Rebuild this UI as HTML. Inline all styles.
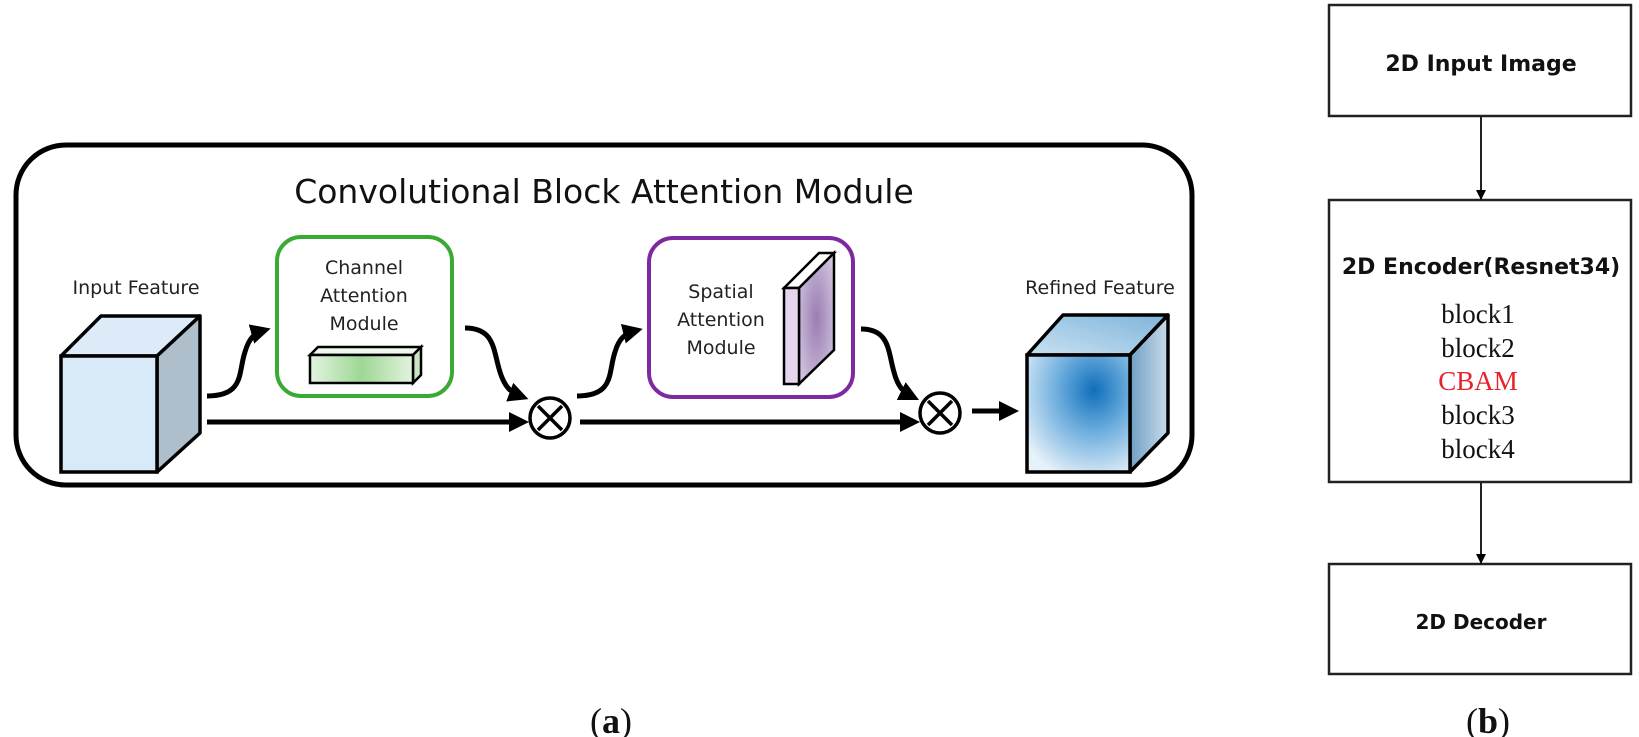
<!DOCTYPE html>
<html><head><meta charset="utf-8"><style>
html,body{margin:0;padding:0;background:#fff}
svg{display:block}
</style></head><body>
<svg width="1639" height="737" viewBox="0 0 1639 737" xmlns="http://www.w3.org/2000/svg">
<defs>
<marker id="ah" markerWidth="4" markerHeight="4" refX="2.2" refY="2" orient="auto" markerUnits="strokeWidth">
<path d="M0,0 L4,2 L0,4 z" fill="#000"/></marker>
<marker id="as" markerWidth="10" markerHeight="10" refX="9" refY="5" orient="auto" markerUnits="userSpaceOnUse">
<path d="M0,0 L10,5 L0,10 z" fill="#000"/></marker>
<radialGradient id="rg" cx="0.65" cy="0.3" r="0.8">
<stop offset="0" stop-color="#0f6fbb"/><stop offset="0.45" stop-color="#6eaedd"/><stop offset="1" stop-color="#e6f1fa"/></radialGradient>
<linearGradient id="rt" x1="0" y1="1" x2="1" y2="0"><stop offset="0" stop-color="#c9e1f2"/><stop offset="1" stop-color="#7fb4da"/></linearGradient>
<linearGradient id="rs" x1="0" y1="0" x2="1" y2="0"><stop offset="0" stop-color="#6f9fc4"/><stop offset="1" stop-color="#c8dcea"/></linearGradient>
<linearGradient id="gb" x1="0" y1="0" x2="1" y2="0"><stop offset="0" stop-color="#e3f3e0"/><stop offset="0.5" stop-color="#9ed795"/><stop offset="1" stop-color="#e3f3e0"/></linearGradient>
<radialGradient id="pb" cx="0.5" cy="0.5" r="0.7"><stop offset="0" stop-color="#9a7db3"/><stop offset="1" stop-color="#d9cde4"/></radialGradient>
</defs>

<rect x="16" y="145" width="1176" height="340" rx="50" fill="none" stroke="#000" stroke-width="5"/>
<text x="604" y="203" font-family="DejaVu Sans, Liberation Sans, sans-serif" font-size="33" text-anchor="middle" fill="#111">Convolutional Block Attention Module</text>

<text x="136" y="294" font-family="DejaVu Sans, Liberation Sans, sans-serif" font-size="19" text-anchor="middle" fill="#222">Input Feature</text>
<polygon points="61,356 101,316 200,316 157,356" fill="#dcebf7" stroke="#000" stroke-width="3.5" stroke-linejoin="round"/>
<polygon points="157,356 200,316 200,433 157,472" fill="#aebecb" stroke="#000" stroke-width="3.5" stroke-linejoin="round"/>
<rect x="61" y="356" width="96" height="116" fill="#d8eaf8" stroke="#000" stroke-width="3.5"/>

<rect x="277" y="237" width="175" height="159" rx="24" fill="none" stroke="#3aaa35" stroke-width="4"/>
<g font-family="DejaVu Sans, Liberation Sans, sans-serif" font-size="19" text-anchor="middle" fill="#222">
<text x="364" y="274">Channel</text><text x="364" y="302">Attention</text><text x="364" y="330">Module</text></g>
<polygon points="310,355 318,347 421,347 413,355" fill="#eef8ec" stroke="#000" stroke-width="2.5"/>
<polygon points="413,355 421,347 421,375 413,383" fill="#c9e6c3" stroke="#000" stroke-width="2.5"/>
<rect x="310" y="355" width="103" height="28" fill="url(#gb)" stroke="#000" stroke-width="2.5"/>

<rect x="649" y="238" width="204" height="159" rx="24" fill="none" stroke="#7d2aa0" stroke-width="4"/>
<g font-family="DejaVu Sans, Liberation Sans, sans-serif" font-size="19" text-anchor="middle" fill="#222">
<text x="721" y="298">Spatial</text><text x="721" y="326">Attention</text><text x="721" y="354">Module</text></g>
<polygon points="784,288 819,253 834,253 799,288" fill="#fff" stroke="#000" stroke-width="2.5"/>
<polygon points="799,288 834,253 834,350 799,384" fill="url(#pb)" stroke="#000" stroke-width="2.5"/>
<rect x="784" y="288" width="15" height="96" fill="#e4d6ef" stroke="#000" stroke-width="2.5"/>

<g fill="none" stroke="#000" stroke-width="5">
<path d="M207,396 C245,396 238,372 245,352 C249,338 255,333 262,331" marker-end="url(#ah)"/>
<path d="M465,328 C495,328 493,350 500,372 C505,388 512,393 520,396" marker-end="url(#ah)"/>
<path d="M577,396 C615,396 608,372 615,352 C619,338 626,333 634,331" marker-end="url(#ah)"/>
<path d="M861,329 C890,329 888,352 894,372 C898,388 905,393 911,396" marker-end="url(#ah)"/>
<line x1="207" y1="422" x2="520" y2="422" marker-end="url(#ah)"/>
<line x1="580" y1="422" x2="911" y2="422" marker-end="url(#ah)"/>
<line x1="972" y1="411" x2="1010" y2="411" marker-end="url(#ah)"/>
</g>
<g stroke="#000" stroke-width="3.5" fill="#fff">
<circle cx="550" cy="418" r="20"/><line x1="538" y1="406" x2="562" y2="430"/><line x1="562" y1="406" x2="538" y2="430"/>
<circle cx="940" cy="413" r="20"/><line x1="928" y1="401" x2="952" y2="425"/><line x1="952" y1="401" x2="928" y2="425"/>
</g>

<text x="1100" y="294" font-family="DejaVu Sans, Liberation Sans, sans-serif" font-size="19" text-anchor="middle" fill="#222">Refined Feature</text>
<polygon points="1027,355 1063,315 1168,315 1130,355" fill="url(#rt)" stroke="#000" stroke-width="3.5" stroke-linejoin="round"/>
<polygon points="1130,355 1168,315 1168,433 1130,472" fill="url(#rs)" stroke="#000" stroke-width="3.5" stroke-linejoin="round"/>
<rect x="1027" y="355" width="103" height="117" fill="url(#rg)" stroke="#000" stroke-width="3.5"/>

<g fill="none" stroke="#222" stroke-width="2.5">
<rect x="1329" y="5" width="302" height="111"/>
<rect x="1329" y="200" width="302" height="282"/>
<rect x="1329" y="564" width="302" height="110"/>
<line x1="1481" y1="116" x2="1481" y2="199" stroke-width="2" marker-end="url(#as)"/>
<line x1="1481" y1="482" x2="1481" y2="563" stroke-width="2" marker-end="url(#as)"/>
</g>
<g font-family="DejaVu Sans, Liberation Sans, sans-serif" font-weight="bold" text-anchor="middle" fill="#111">
<text x="1481" y="71" font-size="22">2D Input Image</text>
<text x="1481" y="274" font-size="22">2D Encoder(Resnet34)</text>
<text x="1481" y="629" font-size="20">2D Decoder</text>
</g>
<g font-family="Liberation Serif, serif" font-size="27" text-anchor="middle" fill="#111">
<text x="1478" y="323">block1</text>
<text x="1478" y="357">block2</text>
<text x="1478" y="390" fill="#e8222a">CBAM</text>
<text x="1478" y="424">block3</text>
<text x="1478" y="458">block4</text>
</g>

<g font-family="Liberation Serif, serif" font-size="36" text-anchor="middle" fill="#111">
<text x="611" y="733">(<tspan font-weight="bold">a</tspan>)</text>
<text x="1488" y="733">(<tspan font-weight="bold">b</tspan>)</text>
</g>
</svg>
</body></html>
